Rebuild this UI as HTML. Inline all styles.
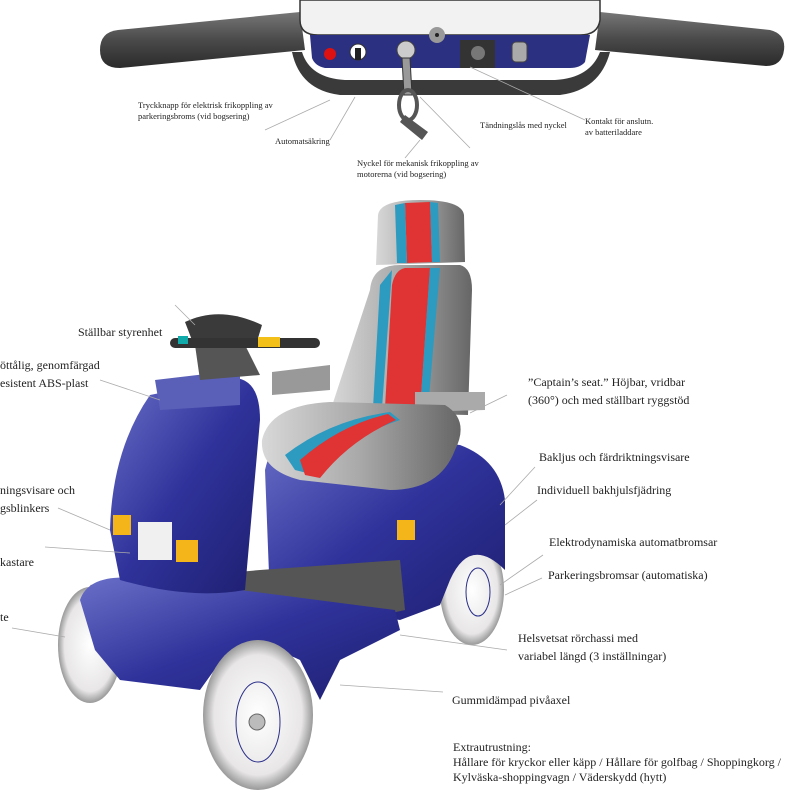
<!DOCTYPE html>
<html><head><meta charset="utf-8"><style>
html,body{margin:0;padding:0;background:#fff;}
svg{display:block;}
text{font-family:"Liberation Serif",serif;fill:#222;}
.s{font-size:8.5px;}
.m{font-size:12px;}
.l{stroke:#aaa;stroke-width:0.8;fill:none;}
</style></head><body>
<svg width="793" height="790" viewBox="0 0 793 790" xmlns="http://www.w3.org/2000/svg">
<defs>
<linearGradient id="grip" x1="0" y1="0" x2="0" y2="1"><stop offset="0" stop-color="#777"/><stop offset=".5" stop-color="#4a4a4a"/><stop offset="1" stop-color="#2a2a2a"/></linearGradient>
<linearGradient id="blue" x1="0" y1="0" x2="1" y2="1"><stop offset="0" stop-color="#6a70c8"/><stop offset=".5" stop-color="#2f329a"/><stop offset="1" stop-color="#1e1f70"/></linearGradient>
<linearGradient id="seat" x1="0" y1="0" x2="1" y2="0"><stop offset="0" stop-color="#d8d8d8"/><stop offset=".5" stop-color="#a8a8a8"/><stop offset="1" stop-color="#666"/></linearGradient>
<radialGradient id="wh" cx=".5" cy=".5" r=".5"><stop offset="0" stop-color="#fff"/><stop offset=".8" stop-color="#e8e6e6"/><stop offset="1" stop-color="#999"/></radialGradient>
</defs>
<!-- top handlebar -->
<path d="M100 50 Q100 32 118 30 L300 12 L305 50 L120 68 Q100 68 100 50Z" fill="url(#grip)"/>
<path d="M600 12 L770 30 Q786 34 784 50 Q782 66 766 66 L595 50Z" fill="url(#grip)"/>
<path d="M292 52 Q300 90 340 95 L560 95 Q600 90 610 52 L600 52 Q590 78 555 80 L345 80 Q310 78 302 52Z" fill="#3a3a3a"/>
<path d="M300 0 L600 0 L600 20 Q598 35 580 35 L318 35 Q300 35 300 20Z" fill="#f2f2f2" stroke="#333" stroke-width="1.5"/>
<path d="M310 35 L590 35 L585 62 Q580 68 570 68 L325 68 Q315 66 312 58Z" fill="#2b3080"/>
<circle cx="437" cy="35" r="8" fill="#999"/><circle cx="437" cy="35" r="2" fill="#222"/>
<circle cx="330" cy="54" r="6" fill="#d11"/>
<circle cx="358" cy="52" r="8" fill="#fff" stroke="#333"/><rect x="355" y="48" width="6" height="12" fill="#222"/>
<circle cx="406" cy="50" r="9" fill="#ccc" stroke="#444"/>
<rect x="460" y="40" width="35" height="28" fill="#333"/><circle cx="478" cy="53" r="7" fill="#777"/>
<rect x="512" y="42" width="15" height="20" rx="4" fill="#aaa" stroke="#444"/>
<path d="M402 58 L410 58 L412 95 L404 95Z" fill="#999" stroke="#333"/>
<ellipse cx="408" cy="105" rx="9" ry="15" fill="none" stroke="#555" stroke-width="4"/>
<path d="M405 115 L428 132 L422 140 L400 122Z" fill="#555"/>
<g class="l"><path d="M330 100 L265 130"/><path d="M355 97 L330 140"/><path d="M420 97 L470 148"/><path d="M470 67 L585 120"/><path d="M420 140 L405 158"/></g>
<text class="s" x="138" y="108">Tryckknapp för elektrisk frikoppling av</text>
<text class="s" x="138" y="119">parkeringsbroms (vid bogsering)</text>
<text class="s" x="275" y="144">Automatsäkring</text>
<text class="s" x="480" y="128">Tändningslås med nyckel</text>
<text class="s" x="585" y="124">Kontakt för anslutn.</text>
<text class="s" x="585" y="135">av batteriladdare</text>
<text class="s" x="357" y="166">Nyckel för mekanisk frikoppling av</text>
<text class="s" x="357" y="177">motorerna (vid bogsering)</text>

<!-- scooter wheels behind -->
<ellipse cx="90" cy="645" rx="32" ry="58" fill="url(#wh)"/>
<ellipse cx="472" cy="590" rx="32" ry="55" fill="url(#wh)"/>
<ellipse cx="478" cy="592" rx="12" ry="24" fill="none" stroke="#2a2f8a"/>
<!-- rear body -->
<path d="M265 470 Q275 425 320 430 L460 445 Q500 460 505 500 L505 570 Q470 535 450 580 L440 605 L400 620 L270 600Z" fill="url(#blue)"/>
<rect x="397" y="520" width="18" height="20" fill="#f3b51a" transform="skew(0,-10)"/>
<!-- floor -->
<path d="M90 585 L260 570 L400 560 L405 610 L360 620 L180 640Z" fill="#555"/>
<!-- front body -->
<path d="M80 600 Q90 570 150 580 L240 590 L395 610 L400 630 L340 660 L320 700 L300 660 Q260 640 225 655 L200 690 L120 680 L95 650Z" fill="url(#blue)"/>
<path d="M150 395 L235 378 Q260 380 260 420 L245 590 Q190 600 120 580 L110 530 Q112 450 150 395Z" fill="url(#blue)"/>
<path d="M155 380 L240 370 L240 405 L160 410Z" fill="#5a60b8"/>
<rect x="138" y="522" width="34" height="38" fill="#f0f0f0"/>
<rect x="113" y="515" width="18" height="20" fill="#f3b51a"/>
<rect x="176" y="540" width="22" height="22" fill="#f3b51a"/>
<!-- steering -->
<path d="M195 345 L245 345 L260 375 L200 380Z" fill="#555"/>
<path d="M185 322 Q220 305 262 325 L255 348 L195 348Z" fill="#3a3a3a"/>
<rect x="170" y="338" width="150" height="10" rx="5" fill="#333"/>
<rect x="178" y="336" width="10" height="8" fill="#1aa"/><rect x="258" y="337" width="22" height="10" fill="#f3c01a"/>
<!-- seat -->
<path d="M378 215 Q380 200 420 200 Q462 200 464 215 L465 262 L376 265Z" fill="url(#seat)"/>
<path d="M405 203 L430 202 L432 262 L407 263Z" fill="#e03333"/>
<path d="M395 205 L405 203 L407 263 L397 263Z M430 202 L438 203 L440 262 L432 262Z" fill="#2d9ac0"/>
<path d="M370 290 Q372 265 400 265 L460 265 Q472 268 472 290 L468 415 L330 412Z" fill="url(#seat)"/>
<path d="M392 285 Q395 270 405 268 L430 268 L420 410 L385 408Z" fill="#e03333"/>
<path d="M380 285 L392 270 L382 408 L373 408Z M430 268 L440 268 L428 410 L420 410Z" fill="#2d9ac0"/>
<path d="M272 372 L330 365 L330 390 L272 395Z" fill="#999"/>
<path d="M415 392 L485 392 L485 410 L415 412Z" fill="#aaa"/>
<path d="M262 440 Q270 405 330 402 L445 405 Q470 420 455 450 Q440 490 390 490 L300 480 Q260 470 262 440Z" fill="url(#seat)"/>
<path d="M285 455 Q330 420 390 412 L400 420 Q340 440 315 475 L295 470Z" fill="#2d9ac0"/>
<path d="M300 460 Q340 425 388 414 L396 420 Q350 440 320 478 L305 475Z" fill="#e03333"/>
<!-- front wheel -->
<ellipse cx="258" cy="715" rx="55" ry="75" fill="url(#wh)"/>
<ellipse cx="258" cy="722" rx="22" ry="40" fill="none" stroke="#2a2f8a"/>
<circle cx="257" cy="722" r="8" fill="#bbb" stroke="#666"/>
<!-- labels -->
<g class="l"><path d="M175 305 L195 325"/><path d="M100 380 L160 400"/><path d="M58 508 L110 530"/><path d="M45 547 L130 553"/><path d="M12 628 L65 637"/><path d="M507 395 L470 413"/><path d="M535 467 L500 505"/><path d="M537 500 L505 525"/><path d="M543 555 L500 585"/><path d="M542 578 L505 595"/><path d="M507 650 L400 635"/><path d="M443 692 L340 685"/></g>
<text class="m" x="78" y="336">Ställbar styrenhet</text>
<text class="m" x="0" y="369">öttålig, genomfärgad</text>
<text class="m" x="0" y="387">esistent ABS-plast</text>
<text class="m" x="0" y="494">ningsvisare och</text>
<text class="m" x="0" y="512">gsblinkers</text>
<text class="m" x="0" y="666" style="display:none">x</text>
<text class="m" x="0" y="566">kastare</text>
<text class="m" x="0" y="621">te</text>
<text class="m" x="528" y="386">”Captain’s seat.” Höjbar, vridbar</text>
<text class="m" x="528" y="404">(360°) och med ställbart ryggstöd</text>
<text class="m" x="539" y="547" style="display:none">x</text>
<text class="m" x="539" y="547" dy="-86">Bakljus och färdriktningsvisare</text>
<text class="m" x="537" y="494">Individuell bakhjulsfjädring</text>
<text class="m" x="549" y="546">Elektrodynamiska automatbromsar</text>
<text class="m" x="548" y="579">Parkeringsbromsar (automatiska)</text>
<text class="m" x="518" y="642">Helsvetsat rörchassi med</text>
<text class="m" x="518" y="660">variabel längd (3 inställningar)</text>
<text class="m" x="452" y="704">Gummidämpad pivåaxel</text>
<text class="m" x="453" y="751">Extrautrustning:</text>
<text class="m" x="453" y="766">Hållare för kryckor eller käpp / Hållare för golfbag / Shoppingkorg /</text>
<text class="m" x="453" y="781">Kylväska-shoppingvagn / Väderskydd (hytt)</text>
</svg>
</body></html>
